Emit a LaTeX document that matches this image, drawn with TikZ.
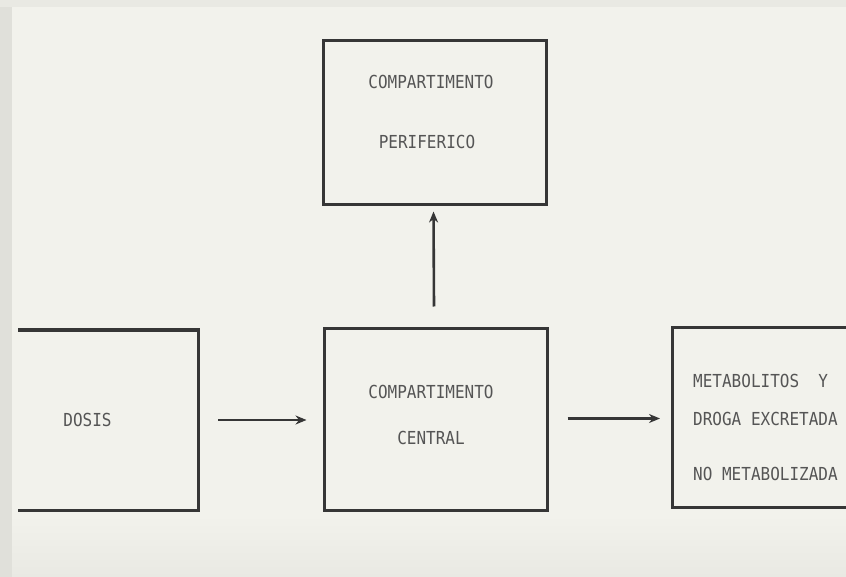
\documentclass[tikz,border=0pt]{standalone}
\usepackage{fontspec}
\newfontfamily\typewr{DejaVu Sans Mono}
\usetikzlibrary{arrows.meta}
\definecolor{paper}{HTML}{F2F2EC}
\definecolor{paperdark}{HTML}{E9E9E3}
\definecolor{edge}{HTML}{E0E0DA}
\definecolor{ink}{HTML}{363636}
\definecolor{txt}{HTML}{555555}
\tikzset{
  box/.style={draw=ink, line width=3pt},
  hidden/.style={inner sep=0pt, outer sep=0pt},
  lbl/.style={font=\typewr\fontsize{16}{18}\selectfont, text=txt, inner sep=0pt, yscale=1.12},
  arr/.style={draw=ink, line width=2.6pt, -{Stealth[length=11pt,width=9pt]}},
  rim/.style={draw=ink, line width=3pt, line cap=rect}
}
\begin{document}
\begin{tikzpicture}[x=1pt,y=-1pt]
\useasboundingbox (0,0) rectangle (846,577);
\fill[paper] (0,0) rectangle (846,577);
\shade[top color=paper, bottom color=paperdark] (0,515) rectangle (846,577);
\fill[edge] (0,0) rectangle (12,577);
\fill[paperdark] (0,0) rectangle (846,7);

% boxes
\node[box, minimum width=223pt, minimum height=164pt, inner sep=0pt] (peri) at (435,123) {};
\node[box, minimum width=223pt, minimum height=181pt, inner sep=0pt] (central) at (435.5,419.5) {};
\node[hidden, minimum width=179pt, minimum height=180pt] (dosis) at (108.5,420) {};
\node[hidden, minimum width=180pt, minimum height=179pt] (metab) at (762,417.5) {};

\draw[rim] (dosis.north west) -- (dosis.north east) -- (dosis.south east) -- (dosis.south west);
\draw[rim] (metab.north east) -- (metab.north west) -- (metab.south west) -- (metab.south east);

% labels
\node[lbl] (p1) at (431,82) {COMPARTIMENTO};
\node[lbl] (p2) at (427,142) {PERIFERICO};
\node[lbl] (c1) at (431,392) {COMPARTIMENTO};
\node[lbl] (c2) at (431,438) {CENTRAL};
\node[lbl] (d1) at (87.5,420) {DOSIS};
\node[lbl, anchor=west] (m1) at (693,381) {METABOLITOS\ \ Y};
\node[lbl, anchor=west] (m2) at (693,419) {DROGA EXCRETADA};
\node[lbl, anchor=west] (m3) at (693,474) {NO METABOLIZADA};

% connectors
\draw[arr] ([xshift=20pt]dosis.east) -- ([xshift=-16pt,yshift=-0.5pt]central.west);
\draw[arr] ([xshift=19pt,yshift=1pt]central.east) -- ([xshift=-12pt,yshift=-1pt]metab.west);
\draw[arr] ([xshift=-1.5pt,yshift=21pt]central.north) -- ([xshift=-1.5pt,yshift=-5pt]peri.south);
\end{tikzpicture}
\end{document}
